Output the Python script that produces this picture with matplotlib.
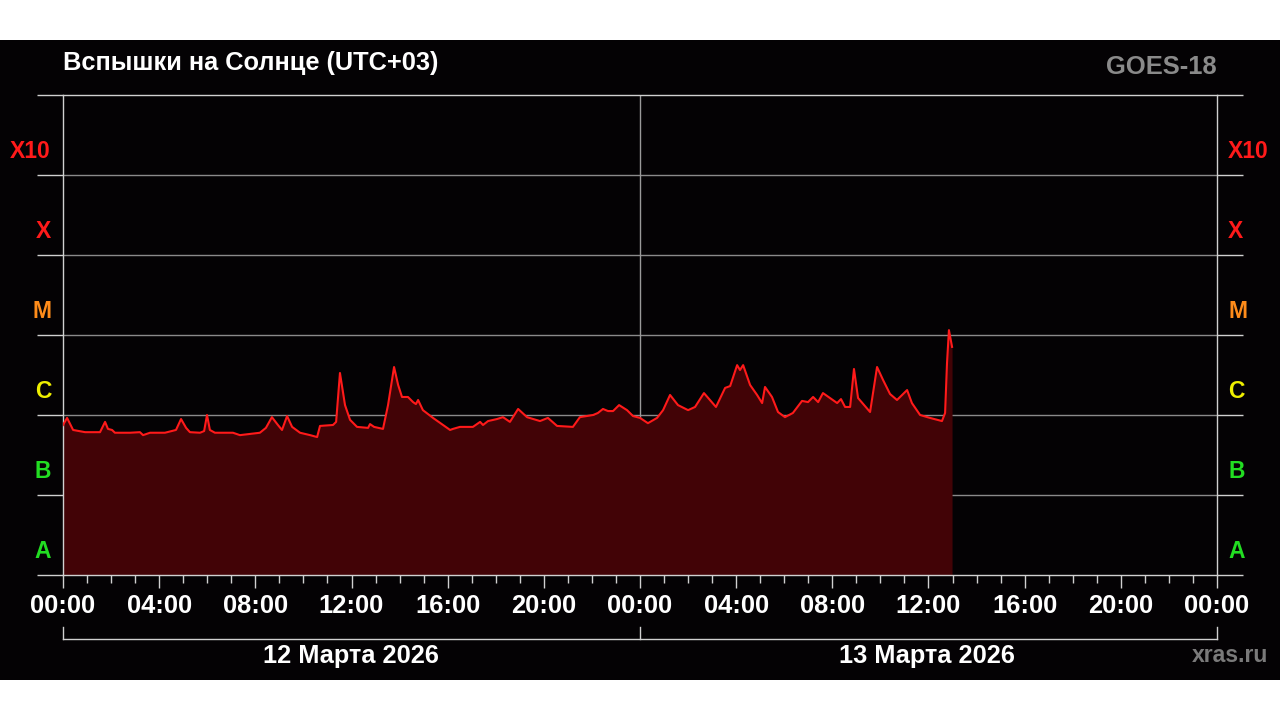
import numpy as np
import matplotlib
matplotlib.use('Agg')
import matplotlib.pyplot as plt
from matplotlib.patches import Rectangle
from matplotlib.lines import Line2D
import matplotlib.transforms as mtransforms

plt.rcParams['font.family'] = ['Liberation Sans', 'DejaVu Sans']
plt.rcParams['font.weight'] = 'bold'

# GOES-18 X-ray flux, hours since 12 March 2026 00:00 (UTC+03)
hours = [0.00, 0.17, 0.42, 0.92, 1.54, 1.75, 1.87, 2.04, 2.16, 2.79, 3.20, 3.33, 3.62, 4.24,
         4.70, 4.91, 5.12, 5.28, 5.70, 5.87, 5.99, 6.11, 6.32, 7.07, 7.36, 7.78, 8.19, 8.44,
         8.69, 8.94, 9.11, 9.32, 9.53, 9.86, 10.28, 10.57, 10.69, 11.23, 11.36, 11.52, 11.73,
         11.94, 12.23, 12.69, 12.77, 12.94, 13.31, 13.52, 13.77, 13.94, 14.10, 14.35, 14.56,
         14.68, 14.77, 14.97, 15.39, 15.81, 16.10, 16.22, 16.51, 16.80, 17.05, 17.35, 17.47,
         17.68, 18.05, 18.30, 18.59, 18.93, 19.30, 19.84, 20.17, 20.55, 21.21, 21.50, 22.05,
         22.25, 22.46, 22.67, 22.88, 23.13, 23.46, 23.71, 24.00, 24.33, 24.71, 24.96, 25.25,
         25.58, 26.00, 26.29, 26.66, 26.91, 27.16, 27.54, 27.75, 28.04, 28.16, 28.29, 28.58,
         28.87, 29.08, 29.20, 29.49, 29.74, 30.03, 30.36, 30.74, 30.99, 31.20, 31.41, 31.61,
         31.90, 32.20, 32.36, 32.53, 32.74, 32.90, 33.07, 33.57, 33.86, 34.11, 34.40, 34.69,
         35.11, 35.31, 35.65, 36.06, 36.56, 36.69, 36.77, 36.85, 36.98]
flux = [7.5e-7, 9.2e-7, 6.5e-7, 6.1e-7, 6.1e-7, 8.2e-7, 6.7e-7, 6.5e-7, 6.0e-7, 6.0e-7,
        6.1e-7, 5.6e-7, 6.0e-7, 6.0e-7, 6.5e-7, 8.9e-7, 6.9e-7, 6.1e-7, 6.0e-7, 6.3e-7,
        1.0e-6, 6.5e-7, 6.0e-7, 6.0e-7, 5.6e-7, 5.8e-7, 6.0e-7, 6.9e-7, 9.4e-7, 7.5e-7,
        6.5e-7, 9.7e-7, 7.1e-7, 6.0e-7, 5.6e-7, 5.3e-7, 7.3e-7, 7.5e-7, 8.2e-7, 3.35e-6,
        1.33e-6, 8.7e-7, 7.1e-7, 6.9e-7, 7.7e-7, 7.1e-7, 6.7e-7, 1.33e-6, 3.98e-6, 2.37e-6,
        1.68e-6, 1.68e-6, 1.45e-6, 1.37e-6, 1.54e-6, 1.15e-6, 9.2e-7, 7.5e-7, 6.5e-7, 6.7e-7,
        7.1e-7, 7.1e-7, 7.1e-7, 8.2e-7, 7.5e-7, 8.4e-7, 8.9e-7, 9.4e-7, 8.2e-7, 1.19e-6,
        9.4e-7, 8.4e-7, 9.2e-7, 7.3e-7, 7.1e-7, 9.4e-7, 1.0e-6, 1.06e-6, 1.19e-6, 1.12e-6,
        1.12e-6, 1.33e-6, 1.15e-6, 9.7e-7, 9.2e-7, 7.9e-7, 9.2e-7, 1.15e-6, 1.78e-6, 1.33e-6,
        1.15e-6, 1.26e-6, 1.88e-6, 1.54e-6, 1.26e-6, 2.18e-6, 2.30e-6, 4.2e-6, 3.65e-6, 4.2e-6,
        2.37e-6, 1.78e-6, 1.41e-6, 2.24e-6, 1.68e-6, 1.09e-6, 9.4e-7, 1.06e-6, 1.50e-6,
        1.45e-6, 1.68e-6, 1.45e-6, 1.88e-6, 1.63e-6, 1.41e-6, 1.58e-6, 1.26e-6, 1.26e-6,
        3.76e-6, 1.63e-6, 1.09e-6, 3.98e-6, 2.74e-6, 1.83e-6, 1.54e-6, 2.05e-6, 1.41e-6,
        1.0e-6, 9.2e-7, 8.4e-7, 1.06e-6, 4.47e-6, 1.15e-5, 7.1e-6]

class_names = ['A', 'B', 'C', 'M', 'X', 'X10']
class_colors = ['#22dd22', '#22dd22', '#eeee00', '#ff8c1a', '#ff1a1a', '#ff1a1a']
tick_hours = list(range(0, 49, 4))
tick_labels = ['%02d:00' % (h % 24) for h in tick_hours]
day_labels = ['12 Марта 2026', '13 Марта 2026']

W, H = 1280, 720
fig = plt.figure(figsize=(12.8, 7.2), dpi=100, facecolor='white')
fig.patches.append(Rectangle((0, 40 / H), 1, 640 / H, transform=fig.transFigure,
                             facecolor='#040204', edgecolor='none', zorder=-10))

ax = fig.add_axes([63 / W, 1 - 575 / H, (1217 - 63) / W, 480 / H])
ax.set_facecolor('#040204')
ax.set_yscale('log')
ax.set_ylim(1e-8, 1e-2)
ax.set_xlim(0, 48)

# grid lines between classes
for lvl in [1e-7, 1e-6, 1e-5, 1e-4, 1e-3]:
    ax.axhline(lvl, color='#8a8a8a', lw=1, zorder=1)
ax.axvline(24, color='#9a9a9a', lw=1, zorder=1)

ax.fill_between(hours, flux, 1e-8, color='#420306', lw=0, zorder=2)
ax.plot(hours, flux, color='#ff1a1a', lw=1.5, zorder=3)

for s in ax.spines.values():
    s.set_color('#d0d0d0')
    s.set_linewidth(1)

# y ticks: band boundaries, extend outside both sides
ax.yaxis.set_major_locator(matplotlib.ticker.FixedLocator([10.0 ** k for k in range(-8, -1)]))
ax.yaxis.set_minor_locator(matplotlib.ticker.NullLocator())
ax.tick_params(axis='y', which='major', length=19, color='#d0d0d0', width=1,
               left=True, right=True, labelleft=False, labelright=False)

ax.set_xticks(tick_hours)
ax.set_xticklabels(tick_labels)
ax.set_xticks(range(49), minor=True)
ax.tick_params(axis='x', which='major', length=9.5, color='#d0d0d0', width=1,
               labelcolor='white', labelsize=18.4, pad=4.5)
ax.tick_params(axis='x', which='minor', length=5.5, color='#d0d0d0', width=1)
for lab in ax.get_xticklabels():
    lab.set_fontweight('bold')

# class letters, sitting in the lower part of each band
trans = mtransforms.blended_transform_factory(ax.transAxes, ax.transData)
for i, (name, col) in enumerate(zip(class_names, class_colors)):
    yc = 10.0 ** (-7.7 + i)
    ax.text((51 - 63) / 1154, yc, name, transform=trans, color=col, fontsize=16.5,
            fontweight='bold', ha='right', va='center')
    ax.text((1228 - 63) / 1154, yc, name, transform=trans, color=col, fontsize=16.5,
            fontweight='bold', ha='left', va='center')

# date bracket under the axis
y1, y2 = (575 - 627) / 480, (575 - 639) / 480
for xa in [0, 0.5, 1]:
    ax.add_line(Line2D([xa, xa], [y1, y2], transform=ax.transAxes, color='#d0d0d0',
                       lw=1, clip_on=False))
ax.add_line(Line2D([0, 1], [y2, y2], transform=ax.transAxes, color='#d0d0d0',
                   lw=1, clip_on=False))
for i, lab in enumerate(day_labels):
    fig.text((351 + 576 * i) / W, 1 - 656 / H, lab, color='white', fontsize=18.3,
             fontweight='bold', ha='center', va='center')

fig.text(63 / W, 1 - 63 / H, 'Вспышки на Солнце (UTC+03)', color='white', fontsize=18.3,
         fontweight='bold', ha='left', va='center')
fig.text(1217 / W, 1 - 67 / H, 'GOES-18', color='#8a8a8a', fontsize=18.4,
         fontweight='bold', ha='right', va='center')
fig.text(1268 / W, 1 - 656 / H, 'xras.ru', color='#7a7a7a', fontsize=16.6,
         fontweight='bold', ha='right', va='center')

fig.savefig('out.png', dpi=100, facecolor='white')
